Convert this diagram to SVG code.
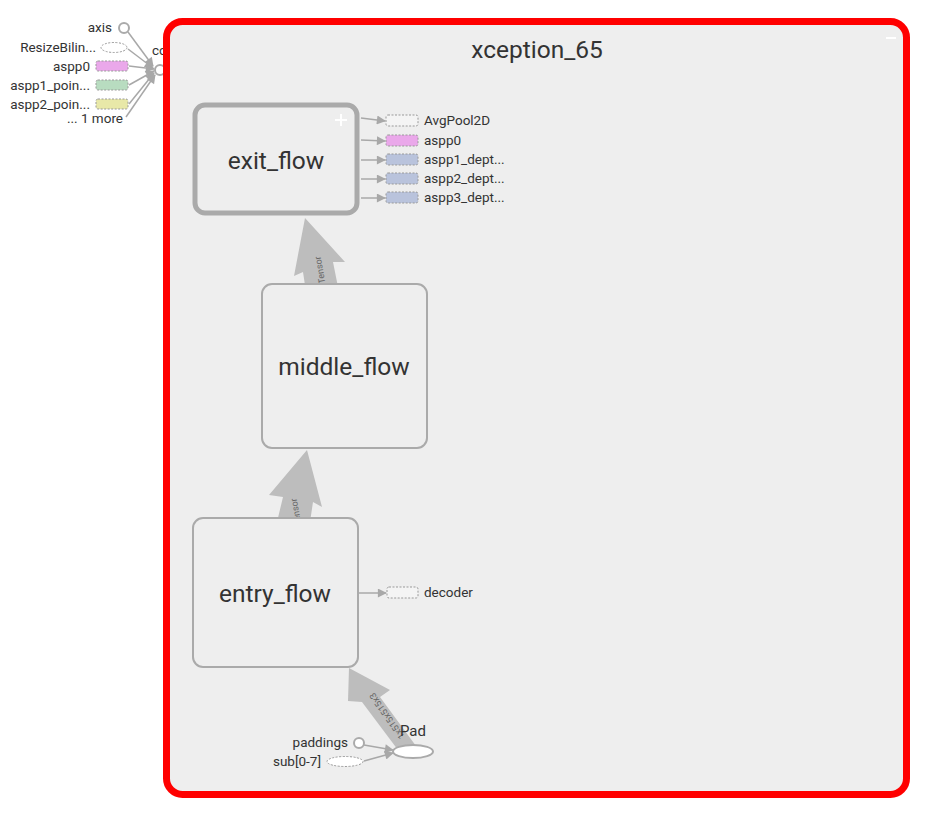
<svg xmlns="http://www.w3.org/2000/svg" width="930" height="823" viewBox="0 0 930 823">
<defs>
<style>
text{font-family:Roboto,"Liberation Sans",sans-serif;fill:#333}
.sm{font-size:13.5px}
.big{font-size:24.5px;text-anchor:middle}
.el{font-size:9px;fill:#666;text-anchor:middle}
.ln{stroke:#a8a8a8;stroke-width:1.5;fill:none}
.thick{fill:#bdbdbd}
.meta{fill:#eeeeee;stroke:#aaaaaa;stroke-width:2}
.sel{stroke-width:5}
.op{stroke:#999;stroke-width:1;stroke-dasharray:2,1.5}
.const{fill:#fff;stroke:#aaa;stroke-width:2}
</style>
<marker id="ah" viewBox="0 0 10 10" refX="9" refY="5" markerWidth="11" markerHeight="9" markerUnits="userSpaceOnUse" orient="auto">
<path d="M0,0 L10,5 L0,10 z" fill="#a8a8a8"/>
</marker>
</defs>

<g id="outside-inputs">
<text x="152" y="55" class="sm">concat</text>
<circle cx="124" cy="28" r="5" class="const"/>
<text x="112" y="32" class="sm" text-anchor="end">axis</text>
<ellipse cx="114" cy="47.5" rx="13" ry="5" fill="#fff" class="op"/>
<text x="96" y="52" class="sm" text-anchor="end">ResizeBilin...</text>
<rect x="96" y="61" width="32" height="10" rx="2" fill="#eaa8ea" class="op"/>
<text x="90" y="71" class="sm" text-anchor="end">aspp0</text>
<rect x="96" y="80" width="32" height="10" rx="2" fill="#b8dcc0" class="op"/>
<text x="90" y="90" class="sm" text-anchor="end">aspp1_poin...</text>
<rect x="96" y="99" width="32" height="10" rx="2" fill="#e8e8a8" class="op"/>
<text x="90" y="109" class="sm" text-anchor="end">aspp2_poin...</text>
<text x="123" y="123" class="sm" text-anchor="end">... 1 more</text>
<circle cx="160" cy="70" r="5" class="const"/>
</g>

<g id="outside-edges">
<line x1="128" y1="32" x2="153" y2="66" class="ln" marker-end="url(#ah)"/>
<line x1="128" y1="49" x2="153" y2="68" class="ln" marker-end="url(#ah)"/>
<line x1="129" y1="66" x2="154" y2="69" class="ln" marker-end="url(#ah)"/>
<line x1="129" y1="85" x2="154" y2="71" class="ln" marker-end="url(#ah)"/>
<line x1="129" y1="104" x2="154" y2="73" class="ln" marker-end="url(#ah)"/>
<line x1="126" y1="117" x2="155" y2="75" class="ln" marker-end="url(#ah)"/>
</g>

<g id="xception_65">
<rect x="166.5" y="21.5" width="740" height="773" rx="16" fill="#eeeeee" stroke="#ff0000" stroke-width="7"/>
<text x="537" y="58" class="big">xception_65</text>
<line x1="886" y1="38" x2="896" y2="38" stroke="#fff" stroke-width="2"/>
</g>

<g id="connectors">
<polygon class="thick" points="305,218 345,262 333,262 339,292 306,292 303,272 294,276"/>
<text class="el" transform="translate(320,270) rotate(-100)" dy="3">Tensor</text>
<polygon class="thick" points="307,450 322,507 313,502 310,522 277,522 283,497 269,495"/>
<text class="el" transform="translate(296,512) rotate(-100)" dy="3">Tensor</text>
<polygon class="thick" points="349,668 390,690 380,697 416,746 398,750 362,702 348,701"/>
<text class="el" transform="translate(387,716) rotate(-125)" dy="3">1x515x515x3</text>
<line x1="361" y1="118" x2="385" y2="121" class="ln" marker-end="url(#ah)"/>
<line x1="361" y1="140" x2="385" y2="141" class="ln" marker-end="url(#ah)"/>
<line x1="361" y1="160" x2="385" y2="160" class="ln" marker-end="url(#ah)"/>
<line x1="361" y1="179" x2="385" y2="179" class="ln" marker-end="url(#ah)"/>
<line x1="361" y1="198" x2="385" y2="198" class="ln" marker-end="url(#ah)"/>
<line x1="359" y1="593" x2="386" y2="593" class="ln" marker-end="url(#ah)"/>
<line x1="364" y1="745" x2="393" y2="750" class="ln" marker-end="url(#ah)"/>
<line x1="364" y1="761" x2="393" y2="753" class="ln" marker-end="url(#ah)"/>
</g>

<g id="exit_flow">
<rect x="195" y="105" width="162" height="108" rx="10" class="meta sel"/>
<text x="276" y="169" class="big">exit_flow</text>
<path d="M341,114 v12 M335,120 h12" stroke="#fff" stroke-width="2"/>
</g>
<g id="middle_flow">
<rect x="262" y="284" width="165" height="164" rx="10" class="meta"/>
<text x="344" y="375" class="big">middle_flow</text>
</g>
<g id="entry_flow">
<rect x="193" y="518" width="165" height="149" rx="10" class="meta"/>
<text x="275" y="602" class="big">entry_flow</text>
</g>

<g id="exit_outputs">
<rect x="386" y="115" width="32" height="11" rx="2" fill="#f4f4f4" class="op"/>
<text x="424" y="125" class="sm">AvgPool2D</text>
<rect x="386" y="135" width="32" height="11" rx="2" fill="#eaa8ea" class="op"/>
<text x="424" y="145" class="sm">aspp0</text>
<rect x="386" y="154" width="32" height="11" rx="2" fill="#b9c3dc" class="op"/>
<text x="424" y="164" class="sm">aspp1_dept...</text>
<rect x="386" y="173" width="32" height="11" rx="2" fill="#b9c3dc" class="op"/>
<text x="424" y="183" class="sm">aspp2_dept...</text>
<rect x="386" y="192" width="32" height="11" rx="2" fill="#b9c3dc" class="op"/>
<text x="424" y="202" class="sm">aspp3_dept...</text>
</g>

<g id="decoder">
<rect x="387" y="587" width="31" height="11" rx="2" fill="#f4f4f4" class="op"/>
<text x="424" y="597" class="sm">decoder</text>
</g>

<g id="Pad">
<ellipse cx="413" cy="751.5" rx="20" ry="6.5" fill="#fff" stroke="#aaa" stroke-width="2"/>
<text x="413" y="736" font-size="15" text-anchor="middle">Pad</text>
</g>
<g id="paddings">
<circle cx="359" cy="743" r="5" class="const"/>
<text x="348" y="747" class="sm" text-anchor="end">paddings</text>
</g>
<g id="sub">
<ellipse cx="345" cy="761.5" rx="18" ry="5" fill="#fff" class="op"/>
<text x="321" y="766" class="sm" text-anchor="end">sub[0-7]</text>
</g>
</svg>
